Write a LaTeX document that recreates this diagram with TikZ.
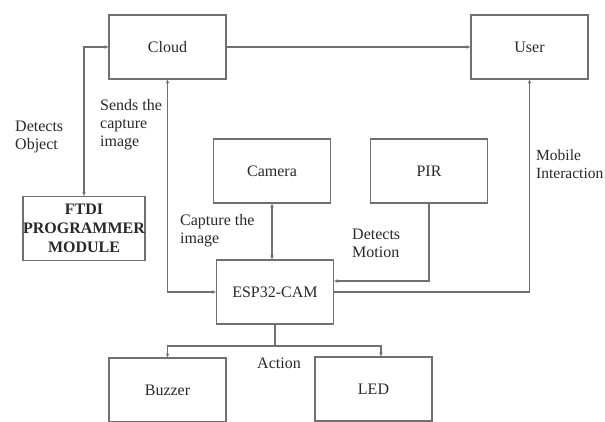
\documentclass[tikz,border=0pt]{standalone}
\usepackage{fontspec}
\setmainfont{Liberation Serif}
\usetikzlibrary{arrows.meta}
\definecolor{edgegray}{RGB}{112,112,112}
\definecolor{textgray}{RGB}{40,40,40}

\begin{document}
\begin{tikzpicture}[
    x=1pt, y=-1pt,
    every node/.style={font=\fontsize{16}{18}\selectfont, text=textgray},
    block/.style={draw=edgegray, line width=1.3pt, align=center, minimum width=117pt, minimum height=64pt, inner sep=0pt},
    arrow/.style={-{Stealth[length=4pt,width=3.5pt]}, draw=edgegray, line width=1.1pt},
    twoway/.style={{Stealth[length=4pt,width=3.5pt]}-{Stealth[length=4pt,width=3.5pt]}, draw=edgegray, line width=1.1pt},
    lbl/.style={anchor=west, align=left, inner sep=0pt}
]
\useasboundingbox (0,0) rectangle (605,421);
\node[block] (cloud) at (167.5,47) {Cloud};
\node[block] (user) at (529.5,47) {User};
\node[block] (camera) at (272,171) {Camera};
\node[block] (pir) at (429,171) {PIR};
\node[block, font=\bfseries\fontsize{16}{19}\selectfont] (ftdi) at (84,228.5) {FTDI\\PROGRAMMER\\MODULE};
\node[block] (esp) at (275,292) {ESP32-CAM};
\node[block] (buzzer) at (167.5,390) {Buzzer};
\node[block] (led) at (373.5,389) {LED};
\coordinate (split) at (275,346);
% labels
\node[lbl] (lobject) at (15,137) {Detects\\Object};
\node[lbl] (lsends) at (100,125) {Sends the\\capture\\image};
\node[lbl] (lcapture) at (180,230.5) {Capture the\\image};
\node[lbl] (lmotion) at (352,243) {Detects\\Motion};
\node[lbl, font=\fontsize{15.5}{18}\selectfont] (lmobile) at (536,164) {Mobile\\Interaction};
\node[lbl] (laction) at (257,363) {Action};
% connectors
\draw[arrow] (cloud) -- (user);
\draw[twoway] (ftdi.north) |- (cloud.west);
\draw[twoway] (cloud.south) |- (esp.west);
\draw[twoway] (camera.south) -- (camera.south |- esp.north);
\draw[arrow] (pir.south) |- ([yshift=11pt]esp.east);
\draw[arrow] (esp.east) -| (user.south);
\draw[draw=edgegray, line width=1.1pt] (esp.south) -- (split);
\draw[arrow] (split) -| (buzzer.north);
\draw[arrow] (split) -| ([xshift=7.5pt]led.north);
\end{tikzpicture}
\end{document}
